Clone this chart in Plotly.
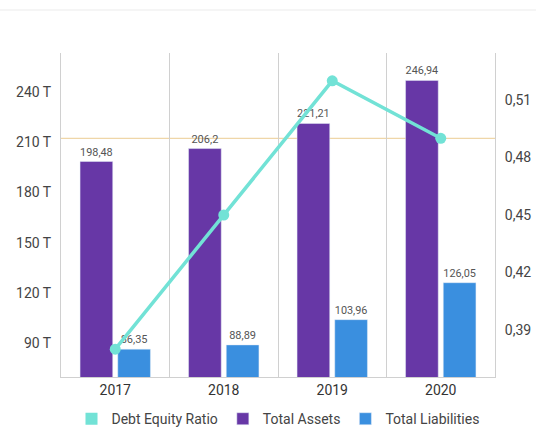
import plotly.graph_objects as go

years = ["2017", "2018", "2019", "2020"]
total_assets = [198.48, 206.2, 221.21, 246.94]
total_liabilities = [86.35, 88.89, 103.96, 126.05]
debt_equity_ratio = [0.380, 0.450, 0.520, 0.490]
left_ticks = [90, 120, 150, 180, 210, 240]
right_ticks = [0.39, 0.42, 0.45, 0.48, 0.51]

PURPLE = "#6737a6"
BLUE = "#3a8fdf"
TEAL = "#72e2d6"
FONT = "Roboto"

def fmt(v):
    return str(v).replace(".", ",")

fig = go.Figure()

fig.add_trace(go.Bar(
    x=years, y=total_assets, name="Total Assets", marker_color=PURPLE,
    text=[fmt(v) for v in total_assets], textposition="outside",
    textfont=dict(size=11, color="#555555", family=FONT), cliponaxis=False,
    legendrank=2,
))
fig.add_trace(go.Bar(
    x=years, y=total_liabilities, name="Total Liabilities", marker_color=BLUE,
    text=[fmt(v) for v in total_liabilities], textposition="outside",
    textfont=dict(size=11, color="#555555", family=FONT), cliponaxis=False,
    legendrank=3,
))
fig.add_trace(go.Scatter(
    x=years, y=debt_equity_ratio, name="Debt Equity Ratio", yaxis="y2",
    mode="lines+markers", line=dict(color=TEAL, width=3.5),
    marker=dict(color=TEAL, size=11), showlegend=False, cliponaxis=False,
))
# legend-only square marker for the line series
fig.add_trace(go.Scatter(
    x=[None], y=[None], name="Debt Equity Ratio", mode="markers",
    marker=dict(color=TEAL, symbol="square", size=12), yaxis="y2",
    legendrank=1,
))

fig.add_shape(type="line", xref="paper", yref="y2", x0=0, x1=1,
              y0=debt_equity_ratio[3], y1=debt_equity_ratio[3],
              line=dict(color="#efd6a8", width=1.2), layer="below")
fig.add_shape(type="line", xref="paper", yref="paper", x0=-0.2, x1=1.2,
              y0=1.133, y1=1.133, line=dict(color="#f2f2f2", width=1.5))

fig.update_layout(
    width=536, height=427,
    margin=dict(l=61, r=41, t=53, b=50, autoexpand=False),
    paper_bgcolor="white", plot_bgcolor="white",
    separators=", ",
    barmode="group", bargap=0.305, bargroupgap=0.133,
    font=dict(family=FONT, size=13, color="#444444"),
    showlegend=True,
    legend=dict(orientation="h", x=0.5, xanchor="center", y=-0.13, yanchor="middle",
                font=dict(size=14, color="#444444", family=FONT),
                itemwidth=30, tracegroupgap=0, traceorder="normal"),
    xaxis=dict(showgrid=True, gridcolor="#d0d0d0", gridwidth=1, tickson="boundaries",
               ticks="", showline=True, linecolor="#d0d0d0",
               tickfont=dict(size=14, color="#333333", family=FONT)),
    yaxis=dict(range=[69.7, 263.3], tickvals=left_ticks,
               ticktext=[f"{v} T" for v in left_ticks],
               showgrid=False, zeroline=False, showline=True, linecolor="#d0d0d0",
               ticks="", ticklabelstandoff=6,
               tickfont=dict(size=14, color="#444444", family=FONT)),
    yaxis2=dict(range=[0.3655, 0.5345], overlaying="y", side="right",
                tickvals=right_ticks, ticktext=[fmt(v) for v in right_ticks],
                showgrid=False, zeroline=False, showline=True, linecolor="#d0d0d0",
                ticks="", ticklabelstandoff=6,
                tickfont=dict(size=14, color="#444444", family=FONT)),
)

fig.write_html("out.html")
